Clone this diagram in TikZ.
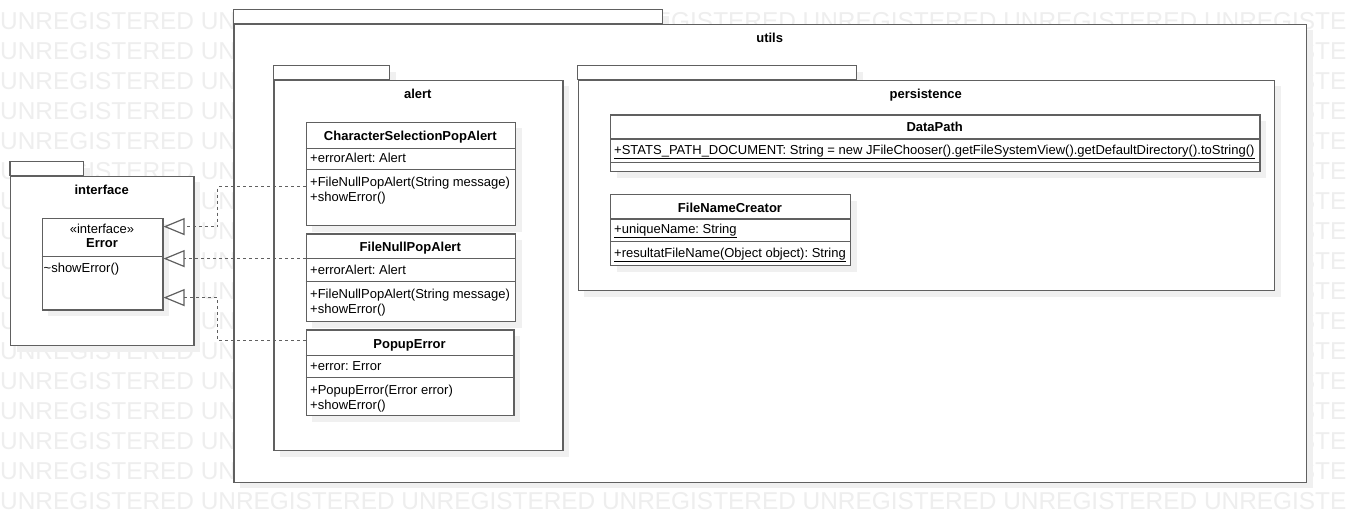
\documentclass[tikz,border=0pt]{standalone}
\usepackage{fontspec}
\setmainfont{Liberation Sans}
\usetikzlibrary{arrows.meta}
\frenchspacing
\definecolor{lc}{RGB}{96,96,96}
\definecolor{shc}{RGB}{240,240,240}
\definecolor{wmc}{RGB}{238,238,238}
\newcommand\wmtext{UNREGISTERED UNREGISTERED UNREGISTERED UNREGISTERED UNREGISTERED UNREGISTERED UNREGISTERED}
\tikzset{
  wm/.style={anchor=base west, inner sep=0pt, text=wmc, font=\fontsize{24.4}{28}\selectfont},
  shd/.style={fill=shc, draw=none, shift={(6.5,6.5)}},
  pkgtab/.style={draw=lc, fill=white, line width=1.3pt},
  pkgbody/.style={draw=lc, fill=white, line width=1.3pt, inner sep=0pt, anchor=north west},
  pkglbl/.style={anchor=base, inner sep=0pt, font=\fontsize{13}{15}\selectfont\bfseries},
  clsbox/.style={draw=lc, fill=white, line width=1.2pt, inner sep=0pt, anchor=north west},
  sep/.style={draw=lc, line width=1.2pt},
  ttl/.style={anchor=base, inner sep=0pt, font=\fontsize{13}{15}\selectfont\bfseries},
  sub/.style={anchor=base, inner sep=0pt, font=\fontsize{13}{15}\selectfont},
  mem/.style={anchor=base west, inner sep=0pt, font=\fontsize{13}{15}\selectfont},
  realize/.style={draw=lc, line width=1.2pt, dash pattern=on 3pt off 3pt,
    -{Triangle[length=21pt, width=17pt, open, fill=white]}},
}
\begin{document}
\begin{tikzpicture}[x=1pt,y=-1pt]
\useasboundingbox (0,0) rectangle (1346,522);
\fill[white] (0,0) rectangle (1346,522);
% watermark
\foreach \i in {0,...,16}{
  \node[wm] (wm\i) at (0,{29.5+30*\i}) {\wmtext};
}
% ---------- utils package ----------
\fill[shd] (233.3,9.7) rectangle (662.5,23.7);
\fill[shd] (233.3,23.7) rectangle (1306,481.7);
\draw[pkgtab] (233.3,9.7) rectangle (662.5,23.7);
\node[pkgbody, minimum width=1072.7pt, minimum height=458pt] (utils) at (233.3,23.7) {};
\node[pkglbl] (utilslbl) at (769.7,42.5) {utils};
% ---------- alert package ----------
\fill[shd] (273.3,65.7) rectangle (389.3,79.7);
\fill[shd] (273.3,79.7) rectangle (562.3,450);
\draw[pkgtab] (273.3,65.7) rectangle (389.3,79.7);
\node[pkgbody, minimum width=289pt, minimum height=370.3pt] (alert) at (273.3,79.7) {};
\node[pkglbl] (alertlbl) at (417.8,98) {alert};
% ---------- persistence package ----------
\fill[shd] (577.7,65.7) rectangle (856.5,79.7);
\fill[shd] (577.7,79.7) rectangle (1274,290);
\draw[pkgtab] (577.7,65.7) rectangle (856.5,79.7);
\node[pkgbody, minimum width=696.3pt, minimum height=210.3pt] (persist) at (577.7,79.7) {};
\node[pkglbl] (persistlbl) at (925.8,98) {persistence};
% ---------- interface package ----------
\fill[shd] (10,161.7) rectangle (83.3,175.7);
\fill[shd] (10,175.7) rectangle (193.3,345);
\draw[pkgtab] (10,161.7) rectangle (83.3,175.7);
\node[pkgbody, minimum width=183.3pt, minimum height=169.3pt] (iface) at (10,175.7) {};
\node[pkglbl] (ifacelbl) at (101.7,194) {interface};
% ---------- Error ----------
\fill[shd] (41.7,217.7) rectangle (162.3,309.3);
\node[clsbox, minimum width=120.6pt, minimum height=91.6pt] (err) at (41.7,217.7) {};
\draw[sep] (err.west |- 0,256.7) -- (err.east |- 0,256.7);
\node[sub] (errst) at (102,233.5) {«interface»};
\node[ttl] (errt) at (102,247.5) {Error};
\node[mem] (errm1) at (43.5,272) {\textasciitilde showError()};
% ---------- CharacterSelectionPopAlert ----------
\fill[shd] (305.7,121.7) rectangle (515,225);
\node[clsbox, minimum width=209.3pt, minimum height=103.3pt] (csp) at (305.7,121.7) {};
\draw[sep] (csp.west |- 0,148.3) -- (csp.east |- 0,148.3);
\draw[sep] (csp.west |- 0,169.3) -- (csp.east |- 0,169.3);
\node[ttl] (cspt) at (410.3,140) {CharacterSelectionPopAlert};
\node[mem] (cspa) at (310,162.5) {+errorAlert: Alert};
\node[mem] (cspm1) at (310,186) {+FileNullPopAlert(String message)};
\node[mem] (cspm2) at (310,201) {+showError()};
% ---------- FileNullPopAlert ----------
\fill[shd] (305.7,233.3) rectangle (515,321);
\node[clsbox, minimum width=209.3pt, minimum height=87.7pt] (fnpa) at (305.7,233.3) {};
\draw[sep] (fnpa.west |- 0,258.3) -- (fnpa.east |- 0,258.3);
\draw[sep] (fnpa.west |- 0,281.7) -- (fnpa.east |- 0,281.7);
\node[ttl] (fnpat) at (410.3,251.5) {FileNullPopAlert};
\node[mem] (fnpaa) at (310,274.5) {+errorAlert: Alert};
\node[mem] (fnpam1) at (310,298) {+FileNullPopAlert(String message)};
\node[mem] (fnpam2) at (310,313) {+showError()};
% ---------- PopupError ----------
\fill[shd] (305.7,329.3) rectangle (513.3,415);
\node[clsbox, minimum width=207.6pt, minimum height=85.7pt] (pe) at (305.7,329.3) {};
\draw[sep] (pe.west |- 0,355.7) -- (pe.east |- 0,355.7);
\draw[sep] (pe.west |- 0,377.7) -- (pe.east |- 0,377.7);
\node[ttl] (pet) at (409.5,348) {PopupError};
\node[mem] (pea) at (310,370.5) {+error: Error};
\node[mem] (pem1) at (310,394) {+PopupError(Error error)};
\node[mem] (pem2) at (310,409) {+showError()};
% ---------- DataPath ----------
\fill[shd] (610,114.3) rectangle (1259.3,171);
\node[clsbox, minimum width=649.3pt, minimum height=56.7pt] (dp) at (610,114.3) {};
\draw[sep] (dp.west |- 0,139) -- (dp.east |- 0,139);
\draw[sep] (dp.west |- 0,162.3) -- (dp.east |- 0,162.3);
\node[ttl] (dpt) at (934.7,131.5) {DataPath};
\node[mem] (dpa) at (614,154) {\underline{+STATS\_PATH\_DOCUMENT: String = new JFileChooser().getFileSystemView().getDefaultDirectory().toString()}};
% ---------- FileNameCreator ----------
\fill[shd] (610,194) rectangle (850,265);
\node[clsbox, minimum width=240pt, minimum height=71pt] (fnc) at (610,194) {};
\draw[sep] (fnc.west |- 0,219) -- (fnc.east |- 0,219);
\draw[sep] (fnc.west |- 0,241.7) -- (fnc.east |- 0,241.7);
\node[ttl] (fnct) at (730,212) {FileNameCreator};
\node[mem] (fnca) at (614,233.5) {\underline{+uniqueName: String}};
\node[mem] (fncm) at (614,257) {\underline{+resultatFileName(Object object): String}};
% ---------- realizations ----------
\draw[realize] ([yshift=-12.65pt]csp.west) -- ++(-88,0) |- ([yshift=37.5pt]err.east);
\draw[realize] ([yshift=19.15pt]fnpa.west) -- ([yshift=19.15pt]fnpa.west -| err.east);
\draw[realize] ([yshift=32.15pt]pe.west) -- ++(-88,0) |- ([yshift=-33.5pt]err.east);
\end{tikzpicture}
\end{document}
